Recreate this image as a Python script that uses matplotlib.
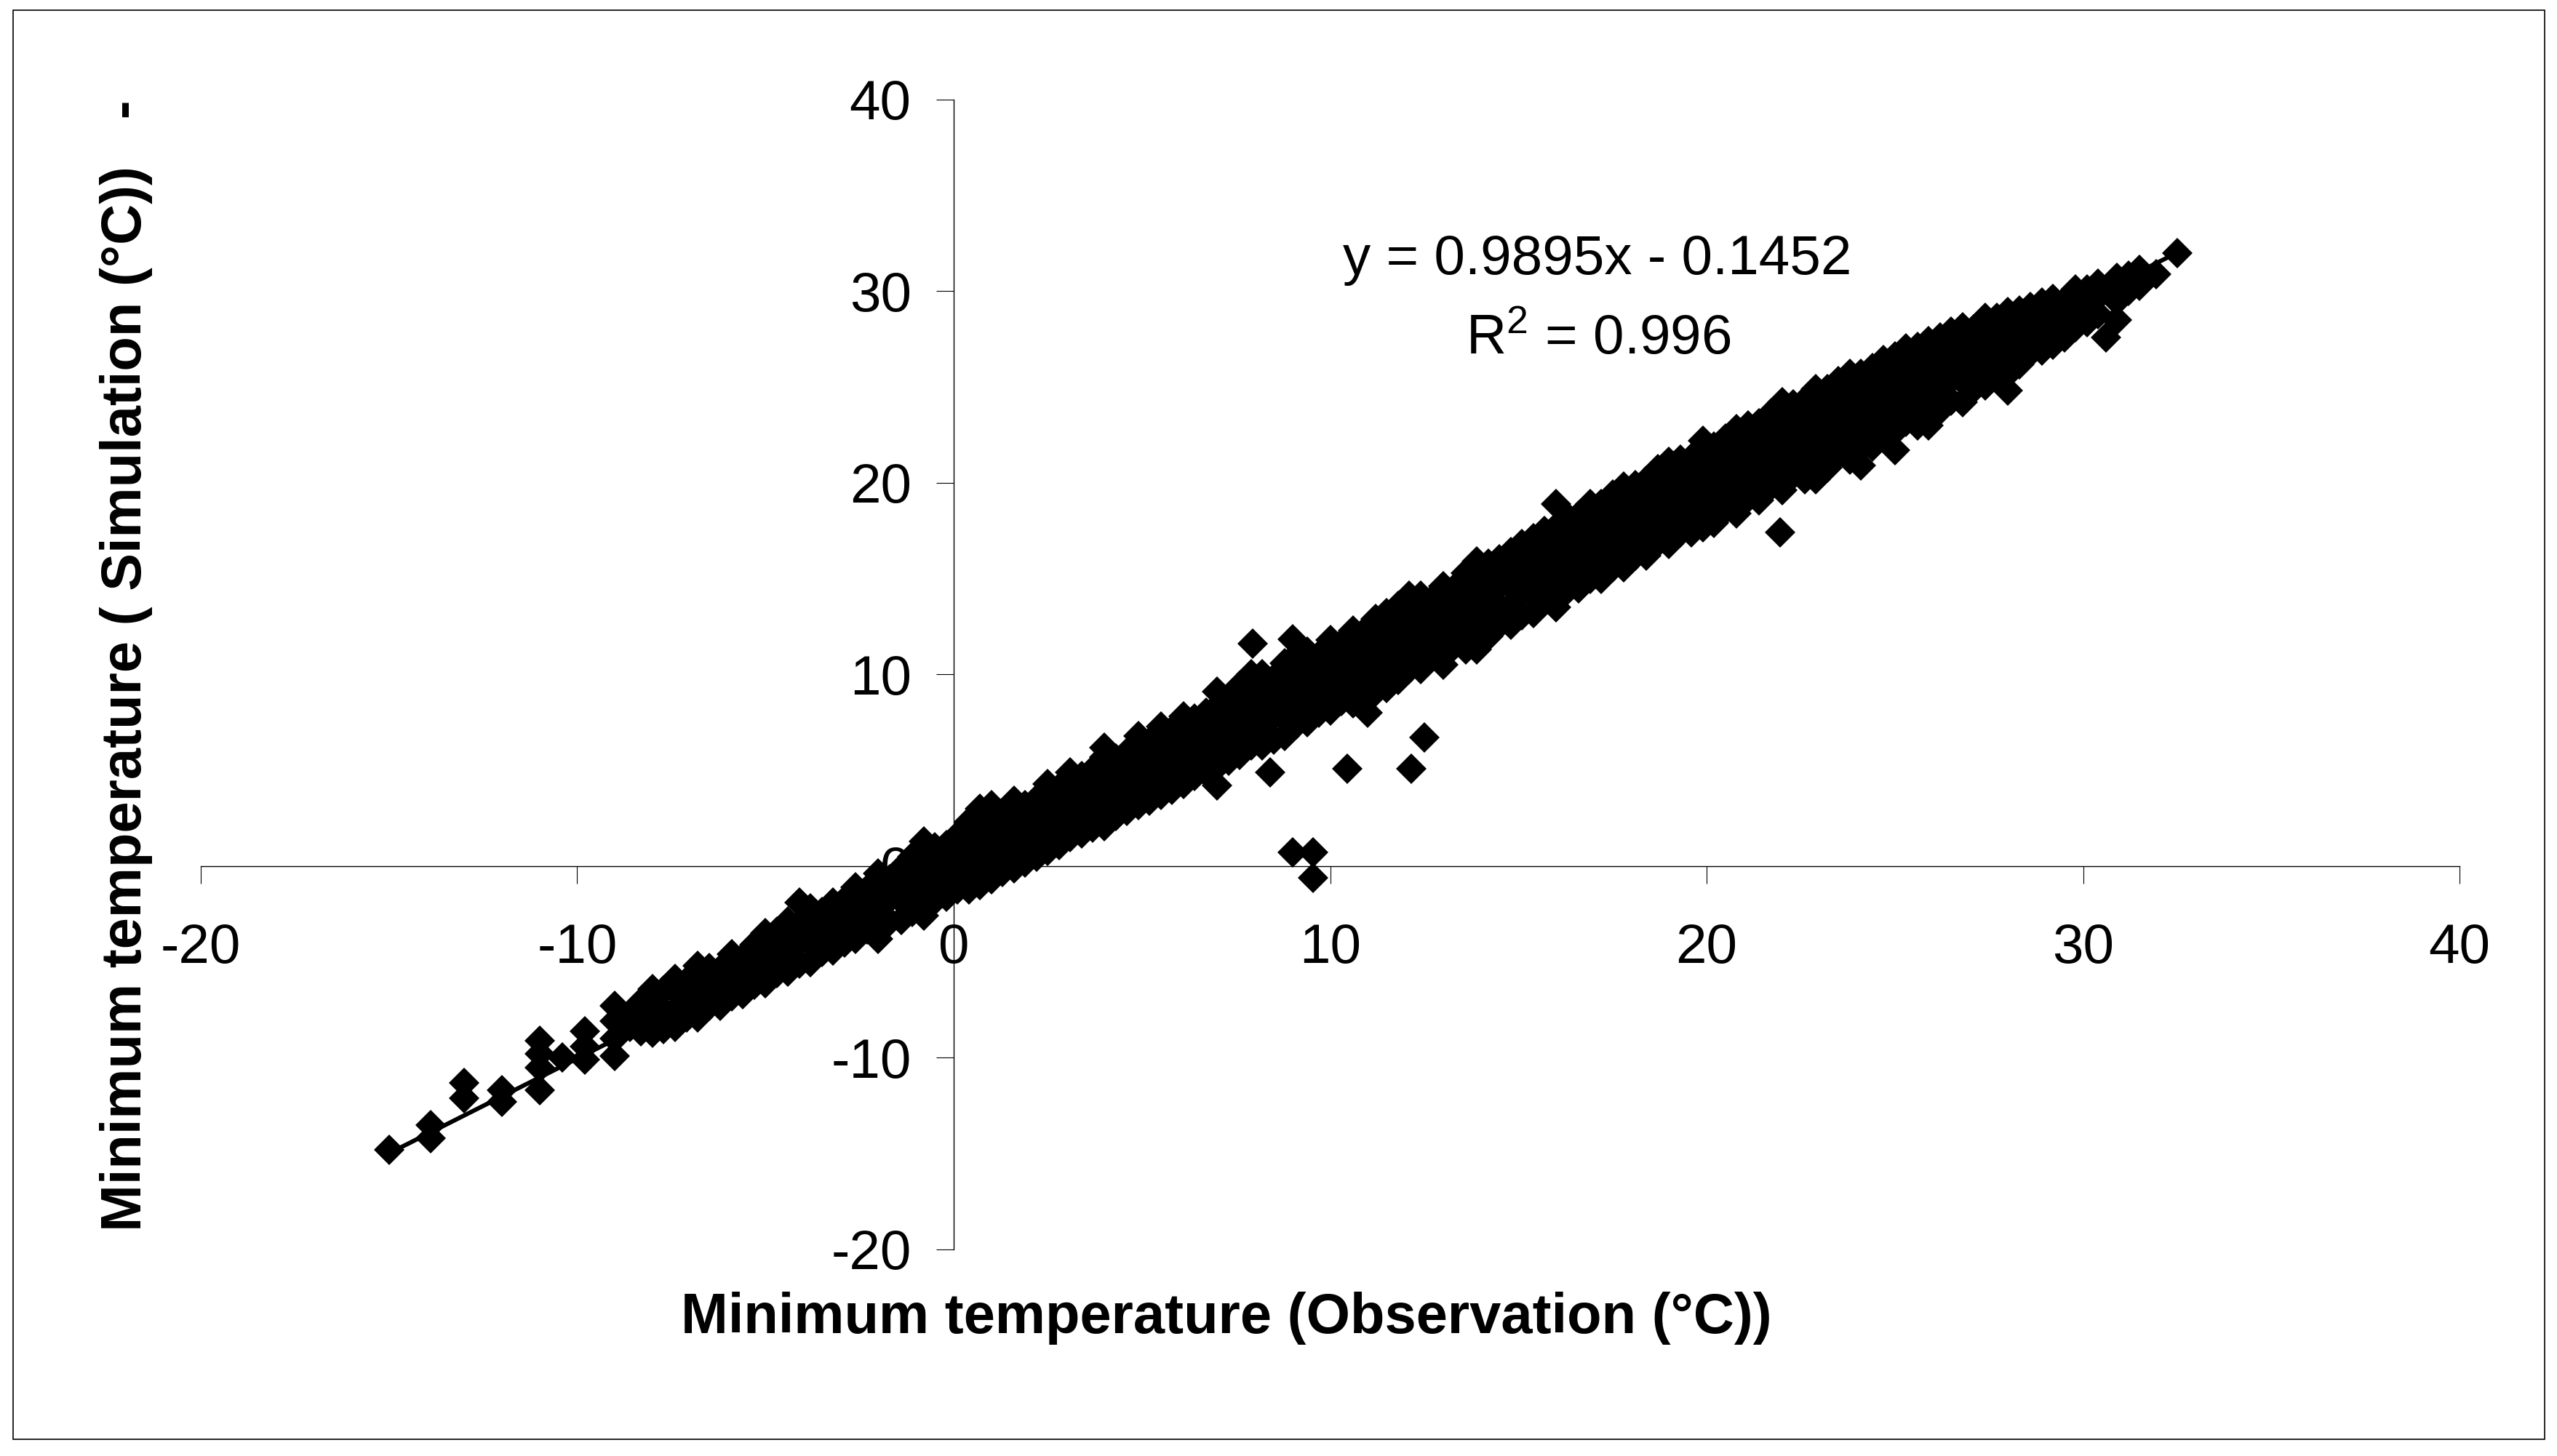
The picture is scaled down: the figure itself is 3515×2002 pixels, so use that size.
import numpy as np
import matplotlib
matplotlib.use('Agg')
import matplotlib.pyplot as plt
from matplotlib.patches import Rectangle

plt.rcParams['font.family'] = ['Liberation Sans', 'DejaVu Sans']
plt.rcParams['axes.unicode_minus'] = False
plt.rcParams['mathtext.fontset'] = 'custom'
plt.rcParams['mathtext.rm'] = 'Liberation Sans'
plt.rcParams['mathtext.it'] = 'Liberation Sans:italic'
plt.rcParams['mathtext.bf'] = 'Liberation Sans:bold'

# ================== Labels / fit ==================
XLABEL = 'Minimum temperature (Observation (°C))'
YLABEL = 'Minimum temperature ( Simulation (°C))   -'
SLOPE = 0.9895
INTERCEPT = -0.1452
R2 = 0.996
TICKS = [-20, -10, 0, 10, 20, 30, 40]
FS = 55

# ================== Data (obs, [simulated values]) ==================
cold_cols = [
  (-15.0, [-14.8]),
  (-13.9, [-13.5, -14.2]),
  (-13.0, [-11.3, -12.1]),
  (-12.0, [-11.7, -12.3]),
  (-11.0, [-9.1, -9.8, -10.5, -11.7]),
  (-10.4, [-10.0]),
  (-9.8, [-8.6, -9.4, -10.1]),
  (-9.0, [-7.3, -8.1, -9.0, -9.9]),
  (-8.6, [-7.8, -8.4]),
  (-8.3, [-7.1, -7.9, -8.6]),
]

cool_cols = [
  (-8.0, [-8.7, -8.0, -7.2, -6.4]),
  (-7.7, [-8.5, -7.5, -6.5]),
  (-7.4, [-8.4, -7.5, -6.5, -5.9]),
  (-7.1, [-7.9, -6.9, -6.0]),
  (-6.8, [-7.9, -6.9, -5.9, -5.2]),
  (-6.5, [-7.3, -6.3, -5.3]),
  (-6.2, [-7.3, -6.4, -5.4]),
  (-5.9, [-6.8, -5.7, -4.6]),
  (-5.6, [-6.7, -5.8, -4.8]),
  (-5.3, [-6.2, -5.1, -4.1]),
  (-5.0, [-6.1, -5.2, -4.2, -3.5]),
  (-4.7, [-5.6, -4.5, -3.4]),
  (-4.4, [-5.5, -4.6, -3.6, -2.9]),
  (-4.1, [-5.1, -4.0, -3.0, -1.9]),
  (-3.8, [-5.0, -4.0, -3.0, -2.2]),
  (-3.5, [-4.5, -3.4, -2.4]),
  (-3.2, [-4.4, -3.4, -2.4, -1.9]),
  (-2.9, [-4.0, -2.8, -1.8]),
  (-2.6, [-3.8, -2.8, -1.8, -1.1]),
  (-2.3, [-3.3, -2.2, -1.2]),
  (-2.0, [-3.8, -3.0, -2.1, -1.1, -0.4]),
  (-1.7, [-2.9, -1.7, -0.7]),
  (-1.4, [-2.8, -1.8, -0.8, -0.1]),
  (-1.1, [-2.4, -1.4, -0.4, 0.5]),
  (-0.8, [-2.6, -1.9, -0.9, 0.1, 0.8, 1.3]),
  (-0.5, [-1.8, -0.7, 0.3, 1.0]),
  (-0.2, [-1.6, -0.8, 0.2, 1.1]),
]

mild_cols = [
  (0.1, [-1.2, -0.1, 0.9, 1.6]),
  (0.4, [-1.2, -0.3, 0.7, 1.7, 2.3]),
  (0.7, [-1.0, 0.0, 1.0, 2.0, 3.0]),
  (1.0, [-0.7, 0.3, 1.3, 2.3, 3.2]),
  (1.3, [-0.3, 0.6, 1.6, 2.6]),
  (1.6, [-0.1, 0.9, 1.9, 2.9, 3.4]),
  (1.9, [0.2, 1.2, 2.2, 3.2]),
  (2.2, [0.5, 1.5, 2.5, 3.5]),
  (2.5, [0.8, 1.8, 2.8, 3.8, 4.3]),
  (2.8, [1.1, 2.1, 3.1, 4.1]),
  (3.1, [1.5, 2.4, 3.4, 4.4, 4.9]),
  (3.4, [1.7, 2.7, 3.7, 4.7]),
  (3.7, [2.0, 3.0, 4.0, 5.0]),
  (4.0, [2.1, 2.9, 3.9, 4.9, 5.7, 6.2]),
  (4.3, [2.6, 3.6, 4.6, 5.6]),
  (4.6, [2.9, 3.9, 4.9, 5.9]),
  (4.9, [3.2, 4.2, 5.2, 6.2, 6.8]),
  (5.2, [3.4, 4.5, 5.5, 6.5]),
  (5.5, [3.7, 4.8, 5.8, 6.8, 7.3]),
  (5.8, [4.0, 5.1, 6.1, 7.1]),
  (6.1, [4.3, 5.4, 6.4, 7.4, 7.8]),
  (6.4, [4.7, 5.7, 6.7, 7.7]),
  (6.7, [4.9, 6.0, 7.0, 8.0]),
  (7.0, [4.2, 5.2, 6.3, 7.3, 8.3, 9.1]),
  (7.3, [5.5, 6.6, 7.6, 8.6]),
  (7.6, [5.8, 6.9, 7.9, 8.9, 9.4]),
]

warm_cols = [
  (7.9, [6.3, 7.3, 8.3, 9.3, 10.0]),
  (8.2, [6.3, 7.1, 8.1, 9.1, 10.0]),
  (8.5, [6.6, 7.8, 8.8, 9.8]),
  (8.8, [6.8, 7.7, 8.7, 9.7, 10.6]),
  (9.1, [7.4, 8.4, 9.4, 10.4, 11.0]),
  (9.4, [7.5, 8.2, 9.2, 10.2, 11.2]),
  (9.7, [8.0, 9.0, 10.0, 11.0]),
  (10.0, [8.1, 8.8, 9.8, 10.8, 11.8]),
  (10.3, [8.6, 9.6, 10.6, 11.6]),
  (10.6, [8.5, 9.4, 10.4, 11.4, 12.3]),
  (10.9, [9.1, 10.2, 11.2, 12.2]),
  (11.2, [9.1, 10.0, 11.0, 12.0, 12.9]),
  (11.5, [9.3, 10.3, 11.3, 12.3, 13.2]),
  (11.8, [9.7, 10.6, 11.6, 12.6, 13.6]),
  (12.1, [10.3, 11.3, 12.3, 13.3, 14.1]),
  (12.4, [10.3, 11.2, 12.2, 13.2, 14.1]),
  (12.7, [10.9, 11.9, 12.9, 13.9]),
  (13.0, [10.5, 11.7, 12.8, 13.8, 14.6]),
  (13.3, [11.5, 12.5, 13.5, 14.5]),
  (13.6, [11.3, 12.4, 13.4, 14.4, 15.3]),
  (13.9, [11.3, 12.1, 13.1, 14.1, 15.1, 15.9]),
  (14.2, [12.0, 12.9, 13.9, 14.9, 15.8]),
  (14.5, [12.6, 13.6, 14.6, 15.6, 16.0]),
  (14.8, [12.6, 13.6, 14.6, 15.6, 16.4]),
  (15.1, [13.1, 14.2, 15.2, 16.2, 16.8]),
  (15.4, [13.2, 14.1, 15.1, 16.1, 17.1]),
  (15.7, [13.8, 14.8, 15.8, 16.8, 17.5]),
  (16.0, [13.5, 14.5, 15.6, 16.7, 17.7, 18.9]),
  (16.3, [14.4, 15.4, 16.4, 17.4, 18.2]),
  (16.6, [14.5, 15.3, 16.3, 17.3, 18.3]),
  (16.9, [15.0, 16.0, 17.0, 18.0, 18.9]),
  (17.2, [15.0, 15.9, 16.9, 17.9, 18.9]),
  (17.5, [15.6, 16.6, 17.6, 18.6, 19.4]),
  (17.8, [15.6, 16.5, 17.5, 18.5, 19.5, 19.8]),
  (18.1, [16.2, 17.2, 18.2, 19.2, 19.9]),
  (18.4, [16.2, 17.1, 18.1, 19.1, 20.1]),
  (18.7, [16.9, 17.8, 18.8, 19.8, 20.7]),
  (19.0, [16.8, 17.7, 18.7, 19.7, 20.7, 21.1]),
  (19.3, [17.4, 18.4, 19.4, 20.4, 21.2]),
  (19.6, [17.4, 18.3, 19.3, 20.3, 21.3]),
  (19.9, [17.7, 18.6, 19.6, 20.6, 21.6, 22.2]),
  (20.2, [17.9, 18.9, 19.9, 20.9, 21.9]),
  (20.5, [18.6, 19.6, 20.6, 21.6, 22.3]),
  (20.8, [18.4, 19.5, 20.5, 21.5, 22.5, 22.8]),
  (21.1, [19.2, 20.2, 21.2, 22.2, 23.0]),
  (21.4, [19.1, 20.0, 21.1, 22.1, 23.1]),
  (21.7, [19.8, 20.8, 21.8, 22.8, 23.6]),
  (22.0, [19.6, 20.7, 21.7, 22.7, 23.7, 24.2]),
  (22.3, [20.4, 21.4, 22.4, 23.4, 24.1]),
  (22.6, [20.2, 21.3, 22.3, 23.3, 24.3]),
  (22.9, [20.2, 21.0, 22.0, 23.0, 24.0, 24.9]),
  (23.2, [20.8, 21.9, 22.9, 23.9, 24.9]),
  (23.5, [21.5, 22.6, 23.6, 24.6, 25.3]),
  (23.8, [21.2, 22.4, 23.4, 24.4, 25.4, 25.7]),
  (24.1, [20.9, 21.8, 22.8, 23.8, 24.8, 25.7]),
  (24.4, [21.9, 23.0, 24.0, 25.0, 26.0]),
  (24.7, [22.6, 23.7, 24.7, 25.7, 26.4]),
  (25.0, [21.7, 22.7, 23.6, 24.6, 25.6, 26.6]),
  (25.3, [23.2, 24.3, 25.3, 26.3, 27.0]),
  (25.6, [23.0, 24.1, 25.1, 26.1, 27.1]),
  (25.9, [23.0, 23.9, 24.9, 25.9, 26.9, 27.4]),
  (26.2, [23.8, 24.8, 25.8, 26.8, 27.6]),
  (26.5, [24.3, 25.4, 26.4, 27.4, 27.9]),
  (26.8, [24.2, 25.3, 26.3, 27.3, 28.1]),
  (27.1, [24.9, 26.0, 27.0, 28.0]),
  (27.4, [25.1, 25.9, 26.9, 27.9, 28.6]),
  (27.7, [25.6, 26.6, 27.6, 28.6]),
  (28.0, [24.8, 25.7, 26.6, 27.6, 28.6, 28.9]),
]

hot_cols = [
  (28.3, [26.2, 27.2, 28.2, 29.0]),
  (28.6, [26.8, 27.5, 28.4, 29.2]),
  (28.9, [26.9, 27.9, 28.8, 29.4]),
  (29.2, [27.2, 28.0, 28.9, 29.6]),
  (29.5, [27.6, 28.6, 29.5]),
  (29.8, [28.1, 29.0, 29.8, 30.1]),
  (30.1, [28.4, 29.3, 30.1]),
  (30.4, [28.8, 29.7, 30.4]),
  (30.9, [28.5, 29.5, 30.2, 30.7]),
  (31.2, [30.0, 30.8]),
  (31.5, [30.3, 31.1]),
  (31.95, [30.9]),
  (32.5, [32.0]),
]

outlier_obs = [7.95, 9.0, 8.4, 10.45, 12.15, 12.5, 9.0, 9.55, 9.55, 21.95, 30.6, 11.0]
outlier_sim = [11.6, 11.85, 4.9, 5.1, 5.1, 6.7, 0.7, 0.7, -0.6, 17.4, 27.6, 8.0]

obs, sim = [], []
for cols in (cold_cols, cool_cols, mild_cols, warm_cols, hot_cols):
  for x, ys in cols:
    obs += [x] * len(ys)
    sim += ys
obs += outlier_obs
sim += outlier_sim
obs = np.array(obs)
sim = np.array(sim)

# ================== Plot ==================
fig = plt.figure(figsize=(35.15, 20.02), dpi=100)
fig.patch.set_facecolor('white')
ax = fig.add_axes([0.0785, 0.1419, 0.8834, 0.7897])
ax.set_facecolor('none')

ax.plot(obs, sim, linestyle='none', marker='D', ms=21.6, mfc='black', mec='black',
        mew=0, zorder=3)

xs = np.array([obs.min(), obs.max()])
ax.plot(xs, SLOPE * xs + INTERCEPT, color='black', lw=4.3, zorder=4)

ax.set_xlim(-20, 40)
ax.set_ylim(-20, 40)
ax.spines['left'].set_position(('data', 0))
ax.spines['bottom'].set_position(('data', 0))
ax.spines['top'].set_visible(False)
ax.spines['right'].set_visible(False)
for s in ('left', 'bottom'):
  ax.spines[s].set_linewidth(1.0)

ax.set_xticks(TICKS)
ax.set_yticks(TICKS)
ax.set_xticklabels([str(t) for t in TICKS])
ax.set_yticklabels([str(t) for t in TICKS])
ax.tick_params(axis='both', direction='out', length=17, width=0.8, labelsize=FS)
ax.tick_params(axis='x', pad=39)
ax.tick_params(axis='y', pad=25)

fig.text(0.6248, 0.8119, 'y = %.4fx - %.4f' % (SLOPE, -INTERCEPT),
         ha='center', va='baseline', fontsize=FS)
fig.text(0.6250, 0.7567, r'R$^2$ = %.3f' % R2, ha='center', va='baseline', fontsize=FS)

fig.text(0.4797, 0.0844, XLABEL, ha='center', va='baseline', fontsize=56, fontweight='bold')
fig.text(0.0495, 0.543, YLABEL, ha='center', va='center', rotation=90,
         fontsize=56, fontweight='bold')

fig.patches.append(Rectangle((18 / 3515, 1 - 1979 / 2002), 3480 / 3515, 1965 / 2002,
                             transform=fig.transFigure, fill=False, lw=1.2,
                             edgecolor='black'))

plt.savefig('out.png', dpi=100, facecolor='white')
